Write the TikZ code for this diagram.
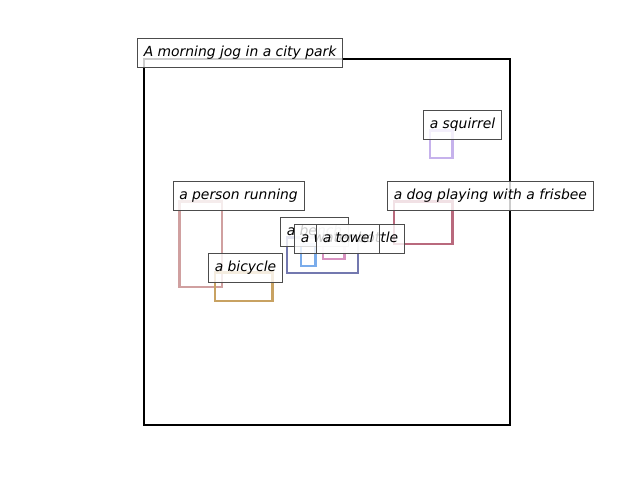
\documentclass[tikz,border=0pt]{standalone}
\usepackage{fontspec}
\setmainfont{DejaVu Sans}
\definecolor{cperson}{RGB}{208,160,160}
\definecolor{cbike}{RGB}{200,162,98}
\definecolor{cbench}{RGB}{115,120,175}
\definecolor{cbottle}{RGB}{122,172,235}
\definecolor{ctowel}{RGB}{215,145,192}
\definecolor{cdog}{RGB}{185,105,125}
\definecolor{csquirrel}{RGB}{198,178,236}
\tikzset{
  lbl/.style={draw=black!70, line width=0.72pt, fill=white, fill opacity=0.8, text opacity=1,
    font=\fontsize{10}{12}\selectfont\itshape, anchor=south west, inner xsep=4.5pt, inner ysep=5.3pt,
    text height=7.6pt, text depth=2.4pt},
  obj/.style={line width=1.5pt},
  frame/.style={line width=1.6pt, draw=black}
}
\begin{document}
\begin{tikzpicture}[x=0.72pt,y=-0.72pt]
\useasboundingbox (0,0) rectangle (640,480);
\draw[frame] (144,59) rectangle (510,425);
% objects
\draw[obj, cperson] (179.5,201.5) rectangle (222,287);
\draw[obj, cbike] (215,272.5) rectangle (272.5,301);
\draw[obj, cbench] (287,237.5) rectangle (358,273);
\draw[obj, cbottle] (301,244.5) rectangle (315.5,266);
\draw[obj, ctowel] (323,244.5) rectangle (344.5,259);
\draw[obj, cdog] (394,201.5) rectangle (452.5,244);
\draw[obj, csquirrel] (430,130.5) rectangle (452.5,158);
% labels
\node[lbl] (title) at (137,68) {A morning jog in a city park};
\node[lbl] (person) at (172.5,211) {a person running};
\node[lbl] (bike) at (208,283) {a bicycle};
\node[lbl] (bench) at (280,247) {a bench};
\node[lbl] (bottle) at (294,254) {a water bottle};
\node[lbl] (towel) at (316,254) {a towel};
\node[lbl] (dog) at (387,211) {a dog playing with a frisbee};
\node[lbl] (squirrel) at (423,140) {a squirrel};
\end{tikzpicture}
\end{document}
